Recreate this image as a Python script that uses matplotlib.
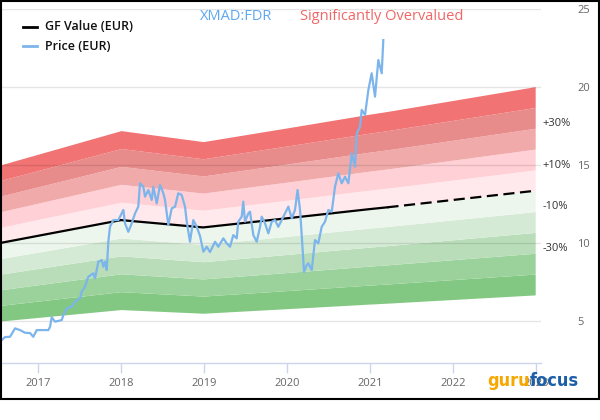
import matplotlib
matplotlib.use('Agg')
import matplotlib.pyplot as plt
from matplotlib.lines import Line2D
from matplotlib.patches import Rectangle
import numpy as np

plt.rcParams['font.family'] = ['Open Sans', 'DejaVu Sans']

# GF Value (EUR) nodes, decimal years
gf_years = [2016.542, 2018.0, 2018.99, 2019.99, 2020.99, 2021.21, 2022.99]
gf_values = [10.0, 11.47, 11.0, 11.58, 12.17, 12.29, 13.35]
gf_split = 2021.21  # dashed (estimate) after this date

# Price (EUR), decimal years
price_years = [
    2016.542, 2016.602, 2016.663, 2016.723, 2016.783, 2016.843, 2016.904, 2016.943,
    2016.984, 2017.064, 2017.124, 2017.145, 2017.165, 2017.205, 2017.286, 2017.305,
    2017.346, 2017.406, 2017.446, 2017.506, 2017.527, 2017.566, 2017.606, 2017.666,
    2017.687, 2017.727, 2017.767, 2017.787, 2017.807, 2017.828, 2017.847, 2017.867,
    2017.907, 2017.967, 2018.008, 2018.028, 2018.048, 2018.088, 2018.129, 2018.169,
    2018.208, 2018.229, 2018.269, 2018.289, 2018.329, 2018.370, 2018.389, 2018.430,
    2018.470, 2018.510, 2018.530, 2018.570, 2018.611, 2018.651, 2018.690, 2018.731,
    2018.771, 2018.792, 2018.831, 2018.871, 2018.912, 2018.952, 2018.992, 2019.033,
    2019.072, 2019.133, 2019.172, 2019.233, 2019.273, 2019.313, 2019.353, 2019.394,
    2019.413, 2019.454, 2019.473, 2019.494, 2019.534, 2019.554, 2019.594, 2019.635,
    2019.675, 2019.695, 2019.735, 2019.775, 2019.816, 2019.855, 2019.895, 2019.936,
    2019.976, 2020.016, 2020.057, 2020.096, 2020.127, 2020.157, 2020.181, 2020.205,
    2020.237, 2020.257, 2020.298, 2020.337, 2020.377, 2020.418, 2020.458, 2020.498,
    2020.539, 2020.578, 2020.618, 2020.659, 2020.699, 2020.739, 2020.780, 2020.819,
    2020.840, 2020.880, 2020.900, 2020.940, 2020.980, 2021.020, 2021.060, 2021.100,
    2021.141, 2021.160,
]
price_values = [
    3.67, 3.97, 3.99, 4.53, 4.42, 4.25, 4.23, 3.99,
    4.42, 4.42, 4.42, 4.63, 5.24, 4.96, 5.06, 5.38,
    5.81, 5.92, 6.24, 6.46, 6.88, 7.20, 7.84, 8.06,
    7.74, 8.80, 8.91, 8.48, 8.80, 8.27, 10.08, 11.04,
    11.47, 11.47, 11.90, 12.12, 11.26, 10.72, 11.26, 11.90,
    12.33, 13.83, 13.61, 12.97, 13.40, 12.76, 13.61, 12.54,
    13.72, 13.19, 12.76, 11.15, 12.22, 12.33, 13.19, 13.08,
    12.33, 11.37, 10.08, 11.47, 11.04, 10.45, 9.44, 9.76,
    9.42, 10.08, 9.76, 10.30, 9.98, 9.76, 10.51, 10.30,
    11.37, 11.69, 12.65, 11.37, 11.90, 12.01, 10.51, 10.08,
    11.04, 11.69, 11.26, 10.62, 11.37, 11.47, 11.04, 11.47,
    11.90, 12.33, 11.58, 12.12, 13.40, 12.12, 10.19, 8.14,
    8.59, 8.70, 8.27, 10.19, 9.98, 11.04, 11.37, 12.12,
    12.01, 13.61, 14.47, 13.83, 14.25, 13.83, 15.75, 14.89,
    17.03, 17.46, 18.53, 18.21, 19.81, 20.88, 19.38, 21.73,
    20.88, 23.01,
]

band_steps = [0.5, 0.6, 0.7, 0.8, 0.9, 1.0, 1.1, 1.2, 1.3, 1.4, 1.5]
band_colors = ['#82c782', '#9bd29b', '#b9ddb9', '#d5ead5', '#edf6ed',
               '#ffe9ec', '#ffd0d5', '#f0aaaa', '#e88b8b', '#f17373']
band_labels = ['+30%', '+10%', '-10%', '-30%']
band_label_levels = [1.3, 1.1, 0.9, 0.7]

y_ticks = [5, 10, 15, 20, 25]
x_ticks = [2017, 2018, 2019, 2020, 2021, 2022, 2023]

fig = plt.figure(figsize=(6, 4.2), dpi=100)
ax = fig.add_axes([0.0, 1 - 363 / 420, 541 / 600, (363 - 9) / 420])

gy = np.array(gf_years)
gv = np.array(gf_values)
for k in range(len(band_colors)):
    ax.fill_between(gy, gv * band_steps[k], gv * band_steps[k + 1],
                    color=band_colors[k], lw=0, zorder=1)

for t in y_ticks:
    ax.axhline(t, color=(0, 0, 0, 0.1), lw=1, zorder=2)

solid = gy <= gf_split + 1e-9
dashed = gy >= gf_split - 1e-9
ax.plot(gy[solid], gv[solid], color='black', lw=1.6, zorder=4)
ax.plot(gy[dashed], gv[dashed], color='black', lw=1.6, ls=(0, (5, 2.5)), zorder=4)

ax.plot(price_years, price_values, color='#7cb5ec', lw=1.6, zorder=5)

ax.set_xlim(2016.542, 2023.06)
ax.set_ylim(2.31, 25)

ax.set_yticks(y_ticks)
ax.yaxis.tick_right()
ax.tick_params(axis='y', length=0, pad=26, labelsize=8, labelcolor='#666666')
for lbl in ax.get_yticklabels():
    lbl.set_horizontalalignment('left')

ax.set_xticks(x_ticks)
ax.set_xticklabels([str(x) for x in x_ticks])
ax.tick_params(axis='x', length=7, width=1, color='#ccd6eb', pad=4,
               labelsize=8, labelcolor='#666666')

for s in ['top', 'right', 'left']:
    ax.spines[s].set_visible(False)
ax.spines['bottom'].set_color('#ccd6eb')
ax.spines['bottom'].set_linewidth(1)
ax.set_facecolor('white')

for lab, lev in zip(band_labels, band_label_levels):
    ax.annotate(lab, xy=(1.0, gf_values[-1] * lev), xycoords=('axes fraction', 'data'),
                xytext=(1, 3.5), textcoords='offset points', ha='left', va='center',
                fontsize=8, color='#333333', zorder=6)

# legend
W, H = 600, 420
fig.add_artist(Line2D([23 / W, 37 / W], [1 - 27 / H, 1 - 27 / H], color='black', lw=2))
fig.add_artist(Line2D([23 / W, 37 / W], [1 - 46 / H, 1 - 46 / H], color='#7cb5ec', lw=2))
fig.text(45 / W, 1 - 27 / H, 'GF Value (EUR)', fontsize=9, fontweight='semibold',
         color='#111111', va='center', ha='left')
fig.text(45 / W, 1 - 46 / H, 'Price (EUR)', fontsize=9, fontweight='semibold',
         color='#111111', va='center', ha='left')

# title texts
fig.text(200 / W, 1 - 17 / H, 'XMAD:FDR', fontsize=10.5, color='#5ea8f2',
         va='center', ha='left')
fig.text(300 / W, 1 - 17 / H, 'Significantly Overvalued', fontsize=10.5,
         color='#f06666', va='center', ha='left')

# logo
logo_font = ['DejaVu Sans']
t1 = fig.text(487 / W, 1 - 386 / H, 'guru', fontsize=13, fontweight='bold',
              fontstretch='condensed', color='#f7a800', family=logo_font,
              va='baseline', ha='left', zorder=10, backgroundcolor='none')
fig.canvas.draw()
bb = t1.get_window_extent()
fig.text(bb.x1 / W, 1 - 386 / H, 'focus', fontsize=13, fontweight='bold',
         fontstretch='condensed', color='#1d5ea8', family=logo_font,
         va='baseline', ha='left', zorder=10)

# outer frame
fig.add_artist(Rectangle((0.5 / W, 1 - 398.5 / H), 598 / W, 398 / H,
                         transform=fig.transFigure, fill=False, ec='black', lw=1.5))

fig.savefig('out.png', dpi=100, facecolor='white')
